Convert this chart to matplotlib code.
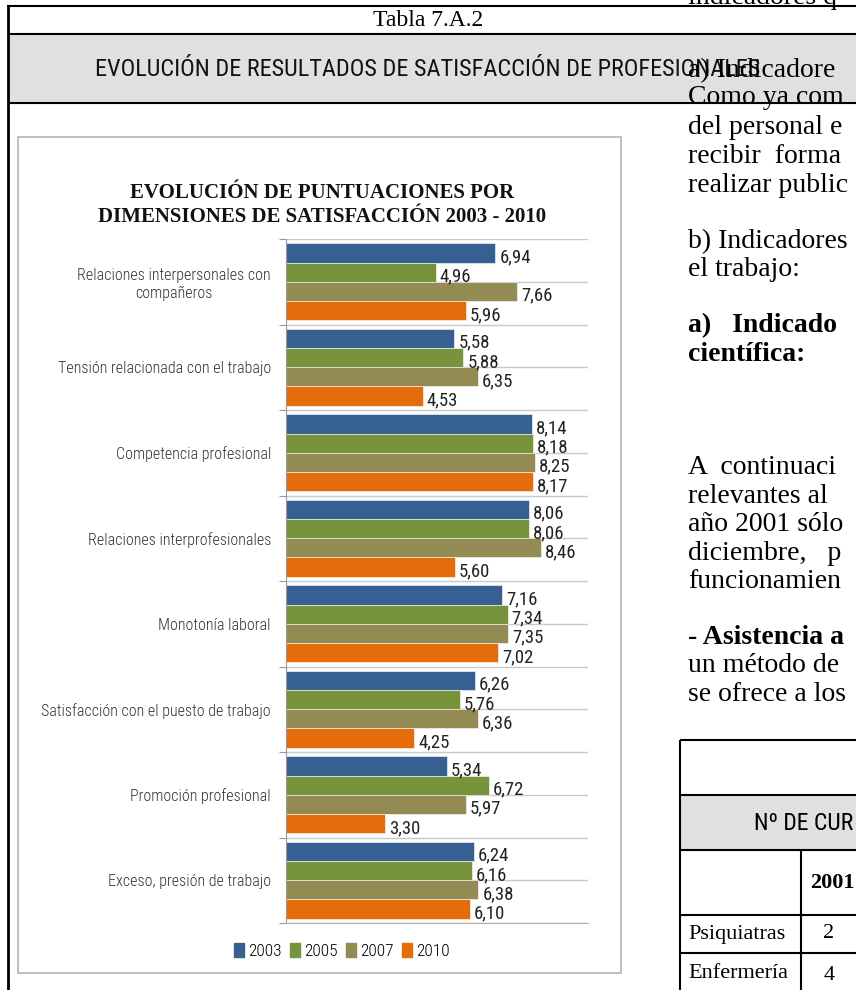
import matplotlib
matplotlib.use('Agg')
import numpy as np
import matplotlib.pyplot as plt
from matplotlib import font_manager as fm
from matplotlib.patches import Rectangle
from matplotlib.lines import Line2D

##### Datos
categorias = ['Relaciones interpersonales con\ncompañeros',
              'Tensión relacionada con el trabajo',
              'Competencia profesional',
              'Relaciones interprofesionales',
              'Monotonía laboral',
              'Satisfacción con el puesto de trabajo',
              'Promoción profesional',
              'Exceso, presión de trabajo']
v2003 = [6.94, 5.58, 8.14, 8.06, 7.16, 6.26, 5.34, 6.24]
v2005 = [4.96, 5.88, 8.18, 8.06, 7.34, 5.76, 6.72, 6.16]
v2007 = [7.66, 6.35, 8.25, 8.46, 7.35, 6.36, 5.97, 6.38]
v2010 = [5.96, 4.53, 8.17, 5.60, 7.02, 4.25, 3.30, 6.10]
anios = ['2003', '2005', '2007', '2010']
colores = ['#376092', '#77933C', '#948A54', '#E46C0A']

##### Fuentes
nombres = {f.name for f in fm.fontManager.ttflist}
def elegir(*cands):
    for c in cands:
        if c in nombres:
            return c
    return 'DejaVu Sans'
estrecha = elegir('Roboto Condensed', 'Liberation Sans Narrow', 'DejaVu Sans')
serif = elegir('Liberation Serif', 'DejaVu Serif')

W, H = 856, 990
fig = plt.figure(figsize=(W/100, H/100), dpi=100)
fx = lambda x: x / W
fy = lambda y: 1 - y / H

def linea(x0, y0, x1, y1, lw=1.5, c='black'):
    fig.add_artist(Line2D([fx(x0), fx(x1)], [fy(y0), fy(y1)], color=c, lw=lw,
                          transform=fig.transFigure, solid_capstyle='butt'))

##### Página (tabla del documento)
fig.add_artist(Rectangle((fx(10), fy(103)), fx(856) - fx(10), fy(34) - fy(103),
                         transform=fig.transFigure, color='#e0e0e0', zorder=0))
linea(7, 6, 856, 6); linea(8, 34, 856, 34); linea(8, 103, 856, 103)
linea(8, 5, 8, 990, lw=2)
fig.text(fx(428), fy(20), 'Tabla 7.A.2', family=serif, fontsize=17, ha='center', va='center')
fig.text(fx(95), fy(70), 'EVOLUCIÓN DE RESULTADOS DE SATISFACCIÓN DE PROFESIONALES',
         family=estrecha, fontsize=17.5, ha='left', va='center', color='#111111')

# texto del documento a la derecha (cortado por el borde)
derecha = [('indicadores q', 4, False), ('a) Indicadore', 77, False),
           ('Como ya com', 104, False), ('del personal e', 134, False),
           ('recibir  forma', 163, False), ('realizar public', 192, False),
           ('b) Indicadores', 248, False), ('el trabajo:', 276, False),
           ('a)   Indicado', 332, True), ('científica:', 361, True),
           ('A  continuaci', 474, False), ('relevantes al', 503, False),
           ('año 2001 sólo', 531, False), ('diciembre,   p', 560, False),
           ('funcionamien', 588, False), ('- Asistencia a', 644, True),
           ('un método de', 672, False), ('se ofrece a los', 701, False)]
for txt, yb, negrita in derecha:
    fig.text(fx(688), fy(yb), txt, family=serif, fontsize=20, ha='left', va='baseline',
             fontweight='bold' if negrita else 'normal')

# tabla pequeña abajo a la derecha
fig.add_artist(Rectangle((fx(680), fy(850)), fx(856) - fx(680), fy(795) - fy(850),
                         transform=fig.transFigure, color='#e0e0e0', zorder=0))
for yy in [740, 795, 850, 915, 953]:
    linea(680, yy, 856, yy)
linea(680, 740, 680, 990); linea(801, 850, 801, 990)
fig.text(fx(754), fy(823), 'Nº DE CUR', family=estrecha, fontsize=17, va='center')
fig.text(fx(810), fy(883), '2001', family=serif, fontsize=16, fontweight='bold', va='center')
fig.text(fx(688), fy(934), 'Psiquiatras', family=serif, fontsize=16, va='center')
fig.text(fx(688), fy(974), 'Enfermería', family=serif, fontsize=16, va='center')
fig.text(fx(829), fy(934), '2', family=serif, fontsize=16, va='center', ha='center')
fig.text(fx(829), fy(976), '4', family=serif, fontsize=16, va='center', ha='center')

##### Marco del gráfico
fig.add_artist(Rectangle((fx(18), fy(973)), fx(621) - fx(18), fy(137) - fy(973),
                         transform=fig.transFigure, facecolor='white', edgecolor='#b4b4b4',
                         lw=1.2, zorder=0.2))
fig.text(fx(322), fy(205), 'EVOLUCIÓN DE PUNTUACIONES POR\nDIMENSIONES DE SATISFACCIÓN 2003 - 2010',
         family=serif, fontweight='bold', fontsize=15, ha='center', va='center',
         linespacing=1.3, color='#111111')

##### Barras
ax = fig.add_axes([fx(285.5), fy(923), fx(588) - fx(285.5), fy(239) - fy(923)])
ax.set_zorder(1)
ax.patch.set_visible(False)
series = [v2003, v2005, v2007, v2010]
n = len(categorias)
alto = 0.225
base = np.arange(n)
for j, (vals, col) in enumerate(zip(series, colores)):
    yy = base + 0.05 + alto * j + alto / 2
    ax.barh(yy, vals, height=alto, color=col, edgecolor='white', lw=0.4, zorder=2)
    for y, v in zip(yy, vals):
        ax.text(v + 0.13, y + 0.05, f'{v:.2f}'.replace('.', ','), family=estrecha,
                fontsize=13.5, ha='left', va='center', color='#222222', zorder=3)

for k in np.arange(0, n + 0.01, 0.5):
    ax.axhline(k, color='#c8c8c8', lw=1, zorder=0)
ax.set_xlim(0, 10)
ax.set_ylim(n, 0)
for s in ['top', 'right']:
    ax.spines[s].set_visible(False)
ax.spines['left'].set_color('#9a9a9a')
ax.spines['bottom'].set_color('#b0b0b0')
ax.set_xticks([])
ax.set_yticks(np.arange(n + 1))
ax.set_yticklabels([])
ax.tick_params(axis='y', which='major', length=5, color='#9a9a9a', direction='out')
ax.set_yticks(base + 0.5, minor=True)
ax.set_yticklabels(categorias, minor=True, family=estrecha, fontsize=11.5, color='#333333',
                   multialignment='center', fontweight='light')
ax.tick_params(axis='y', which='minor', length=0, pad=10.5)

manejadores = [Rectangle((0, 0), 1, 1, color=c) for c in colores]
fig.legend(manejadores, anios, loc='center', bbox_to_anchor=(fx(342), fy(951)), ncol=4,
           frameon=False, handlelength=0.55, handleheight=0.9, handletextpad=0.25,
           columnspacing=0.5, prop={'family': estrecha, 'size': 12.5, 'weight': 'light'})

fig.savefig('out.png', dpi=100)
